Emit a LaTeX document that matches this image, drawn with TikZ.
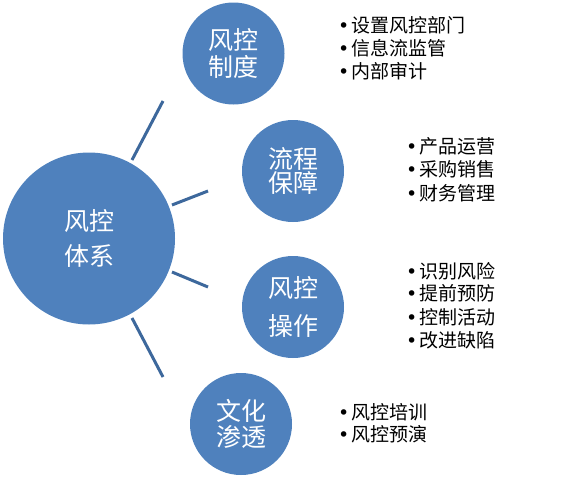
\documentclass[tikz,border=0pt]{standalone}
\usepackage{fontspec}
\setmainfont{Noto Sans CJK SC}
\newfontfamily\bulfont{DejaVu Sans}
\definecolor{fillblue}{HTML}{4F81BD}
\definecolor{lineblue}{HTML}{3D689C}
\tikzset{
  hub/.style={circle, fill=fillblue, draw=none, inner sep=0pt, minimum size=172pt, text=white, align=center},
  sat/.style={circle, fill=fillblue, draw=none, inner sep=0pt, minimum size=102pt, text=white, align=center},
  spoke/.style={draw=lineblue, line width=3pt},
  item/.style={anchor=west, inner sep=0pt, font=\fontsize{19}{23}\selectfont},
}
\newcommand{\bul}{\makebox[13.5pt][l]{\bulfont\textbullet}}
\begin{document}
\begin{tikzpicture}[x=1pt, y=-1pt]
\useasboundingbox (0,0) rectangle (564,479);
% circles
\node[hub, font=\fontsize{25}{35}\selectfont] (hub) at (89,238.5) {风控\\体系};
\node[sat, font=\fontsize{25}{27}\selectfont] (c1) at (233.5,53.5) {风控\\制度};
\node[sat, font=\fontsize{25}{24.5}\selectfont] (c2) at (293,171) {流程\\保障};
\node[sat, font=\fontsize{25}{38}\selectfont] (c3) at (293,307) {风控\\操作};
\node[sat, font=\fontsize{25}{26}\selectfont] (c4) at (241,424) {文化\\渗透};
% spokes
\coordinate (l1a) at (132,160); \coordinate (l1b) at (163,101);
\coordinate (l2a) at (172,205); \coordinate (l2b) at (208,191);
\coordinate (l3a) at (172,272); \coordinate (l3b) at (208,287);
\coordinate (l4a) at (132,318); \coordinate (l4b) at (163,377);
\draw[spoke] (l1a) -- (l1b);
\draw[spoke] (l2a) -- (l2b);
\draw[spoke] (l3a) -- (l3b);
\draw[spoke] (l4a) -- (l4b);
% lists
\node[item] (a1) at (338,25) {\bul 设置风控部门};
\node[item] (a2) at (338,48) {\bul 信息流监管};
\node[item] (a3) at (338,71) {\bul 内部审计};
\node[item] (b1) at (406,146) {\bul 产品运营};
\node[item] (b2) at (406,169) {\bul 采购销售};
\node[item] (b3) at (406,193) {\bul 财务管理};
\node[item] (d1) at (406,271) {\bul 识别风险};
\node[item] (d2) at (406,293.5) {\bul 提前预防};
\node[item] (d3) at (406,317) {\bul 控制活动};
\node[item] (d4) at (406,340) {\bul 改进缺陷};
\node[item] (e1) at (338,412) {\bul 风控培训};
\node[item] (e2) at (338,434) {\bul 风控预演};
\end{tikzpicture}
\end{document}
